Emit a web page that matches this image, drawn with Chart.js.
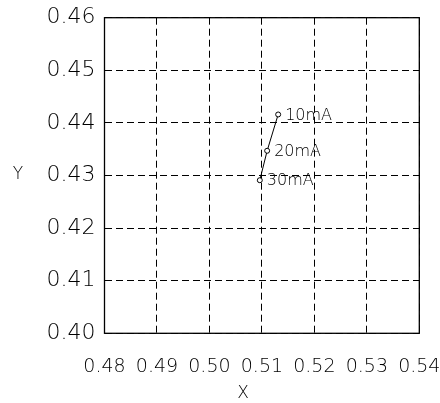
<!DOCTYPE html>
<html>
<head>
<meta charset="utf-8">
<script src="https://cdn.jsdelivr.net/npm/chart.js@4/dist/chart.umd.min.js"></script>
<style>
html,body{margin:0;padding:0;background:#fff;}
#wrap{width:440px;height:403px;}
</style>
</head>
<body>
<div id="wrap"><canvas id="c" width="440" height="403"></canvas></div>
<script>
const pointLabels = ["10mA", "20mA", "30mA"];
const xValues = [0.5131, 0.5110, 0.5096];
const yValues = [0.4416, 0.4347, 0.4291];
const xTicks = [0.48, 0.49, 0.50, 0.51, 0.52, 0.53, 0.54];
const yTicks = [0.40, 0.41, 0.42, 0.43, 0.44, 0.45, 0.46];

const FONT = "'DejaVu Sans', sans-serif";
const WEIGHT = '200';
const TEXT = '#000';

const frame = {
  id: 'frame',
  afterDraw(chart) {
    const {ctx, chartArea: a} = chart;
    ctx.save();
    ctx.strokeStyle = '#000';
    ctx.lineWidth = 1.3;
    ctx.setLineDash([]);
    ctx.strokeRect(a.left, a.top, a.right - a.left, a.bottom - a.top);
    const xs = chart.scales.x, ys = chart.scales.y;
    ctx.fillStyle = TEXT;
    ctx.font = WEIGHT + " 16px " + FONT;
    ctx.textBaseline = 'middle';
    ctx.textAlign = 'left';
    pointLabels.forEach((t, i) => {
      ctx.fillText(t, xs.getPixelForValue(xValues[i]) + 7, ys.getPixelForValue(yValues[i]) + 1);
    });
    // axis titles (horizontal, as in reference)
    ctx.font = "300 17px " + FONT;
    ctx.textAlign = 'center';
    ctx.fillText('Y', 18, (a.top + a.bottom) / 2 - 1);
    ctx.fillText('X', a.left + (a.right - a.left) * 0.44, 394);
    ctx.restore();
  }
};

new Chart(document.getElementById('c'), {
  type: 'scatter',
  data: {
    datasets: [{
      data: xValues.map((x, i) => ({x, y: yValues[i]})),
      showLine: true,
      borderColor: '#000',
      borderWidth: 1,
      pointRadius: 2.5,
      pointBackgroundColor: '#fff',
      pointBorderColor: '#000',
      pointBorderWidth: 1
    }]
  },
  options: {
    responsive: false,
    animation: false,
    devicePixelRatio: 1,
    layout: {padding: {left: 0, right: 20.7, top: 17.7, bottom: 0}},
    plugins: {legend: {display: false}, tooltip: {enabled: false}},
    scales: {
      x: {
        type: 'linear', min: 0.48, max: 0.54,
        afterBuildTicks: s => { s.ticks = xTicks.map(v => ({value: v})); },
        afterFit: s => { s.height = 403 - 333.3; s.paddingLeft = 0; s.paddingRight = 0; },
        ticks: {
          callback: v => v.toFixed(2),
          font: {family: FONT, size: 19, weight: WEIGHT}, color: TEXT, padding: 22, maxRotation: 0
        },
        grid: {color: '#000', lineWidth: 1, drawTicks: false},
        border: {display: false, dash: [7, 4]}
      },
      y: {
        type: 'linear', min: 0.40, max: 0.46,
        afterBuildTicks: s => { s.ticks = yTicks.map(v => ({value: v})); },
        afterFit: s => { s.width = 104.5; s.paddingTop = 0; s.paddingBottom = 0; },
        ticks: {
          callback: v => v.toFixed(2),
          font: {family: FONT, size: 22, weight: WEIGHT}, color: TEXT, padding: 9
        },
        grid: {color: '#000', lineWidth: 1, drawTicks: false},
        border: {display: false, dash: [7, 4]}
      }
    }
  },
  plugins: [frame]
});
</script>
</body>
</html>
